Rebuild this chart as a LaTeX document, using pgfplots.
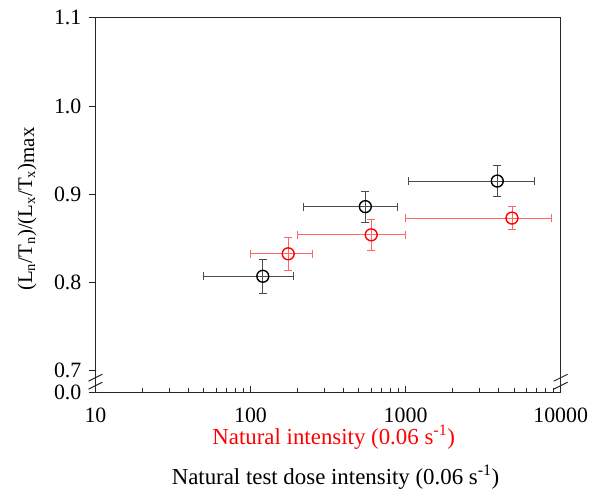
\documentclass[border=0pt]{standalone}
\usepackage{pgfplots}
\pgfplotsset{compat=1.18}
\usepackage{fontspec}
\setmainfont{Liberation Serif}
\begin{document}
\fontsize{21}{25}\selectfont
\begin{tikzpicture}
\begin{axis}[
  width=468pt, height=377pt, scale only axis,
  xmode=log, xmin=10, xmax=10000,
  ymin=0.675, ymax=1.1,
  xtick={10,100,1000,10000}, xticklabels={10,100,1000,10000},
  ytick={0.675,0.7,0.8,0.9,1.0,1.1}, yticklabels={0.0,0.7,0.8,0.9,1.0,1.1},
  xtick pos=bottom, ytick pos=left,
  xtick align=inside, ytick align=outside,
  major tick length=7pt, minor tick length=5pt,
  every tick/.style={black!85, line width=1pt},
  axis line style={line width=1.2pt, black!85},
  yticklabel style={font=\fontsize{22}{26}\selectfont},
  xticklabel style={font=\fontsize{22}{26}\selectfont, anchor=base, yshift=-30pt},
  clip=false,
  xlabel={Natural intensity (0.06 s\textsuperscript{-1})},
  xlabel style={red, at={(axis description cs:0.512,-0.138)}, anchor=base, font=\fontsize{23}{26}\selectfont},
  ylabel={(L\textsubscript{n}/T\textsubscript{n})/(L\textsubscript{x}/T\textsubscript{x})\raisebox{-2pt}{max}},
  ylabel style={at={(axis description cs:-0.147,0.49)}, anchor=center, font=\fontsize{21}{25}\selectfont},
]
% black: error bars
\addplot[draw=none, mark=none, forget plot,
  error bars/.cd, x dir=both, x explicit, y dir=both, y explicit,
  error mark=-,
  error bar style={line width=0.9pt, draw=black!70},
  error mark options={rotate=90, mark size=4pt, line width=0.9pt, draw=black!70}]
coordinates {
  (120,0.807) +- (70,0.019)
  (550,0.886) +- (330,0.0175)
  (3900,0.915) +- (2850,0.0175)
};
% red: error bars
\addplot[draw=none, mark=none, forget plot,
  error bars/.cd, x dir=both, x explicit, y dir=both, y explicit,
  error mark=-,
  error bar style={line width=0.9pt, draw=red!60},
  error mark options={rotate=90, mark size=4pt, line width=0.9pt, draw=red!60}]
coordinates {
  (175,0.8325) +- (75,0.019)
  (600,0.854) +- (400,0.018)
  (4850,0.873) +- (3850,0.013)
};
% black markers
\addplot[only marks, mark=o, mark size=6pt,
  mark options={line width=1.4pt, fill=white, draw=black}]
coordinates {(120,0.807) (550,0.886) (3900,0.915)};
% red markers
\addplot[only marks, mark=o, mark size=6pt,
  mark options={line width=1.4pt, fill=white, draw=red}]
coordinates {(175,0.8325) (600,0.854) (4850,0.873)};
\node[font=\fontsize{23}{26}\selectfont, anchor=base] at (axis description cs:0.516,-0.244)
  {Natural test dose intensity (0.06 s\textsuperscript{-1})};
\draw[line width=1pt, black!85] ([xshift=-7pt,yshift=-3.5pt]axis cs:10,0.683) -- ([xshift=7pt,yshift=3.5pt]axis cs:10,0.683);
\draw[line width=1pt, black!85] ([xshift=-7pt,yshift=-3.5pt]axis cs:10,0.692) -- ([xshift=7pt,yshift=3.5pt]axis cs:10,0.692);
\draw[line width=1pt, black!85] ([xshift=-7pt,yshift=-3.5pt]axis cs:10000,0.683) -- ([xshift=7pt,yshift=3.5pt]axis cs:10000,0.683);
\draw[line width=1pt, black!85] ([xshift=-7pt,yshift=-3.5pt]axis cs:10000,0.692) -- ([xshift=7pt,yshift=3.5pt]axis cs:10000,0.692);
\end{axis}
\path ([shift={(-96pt,-100pt)}]current axis.south west) rectangle ([shift={(31pt,18pt)}]current axis.north east);
\end{tikzpicture}
\end{document}
